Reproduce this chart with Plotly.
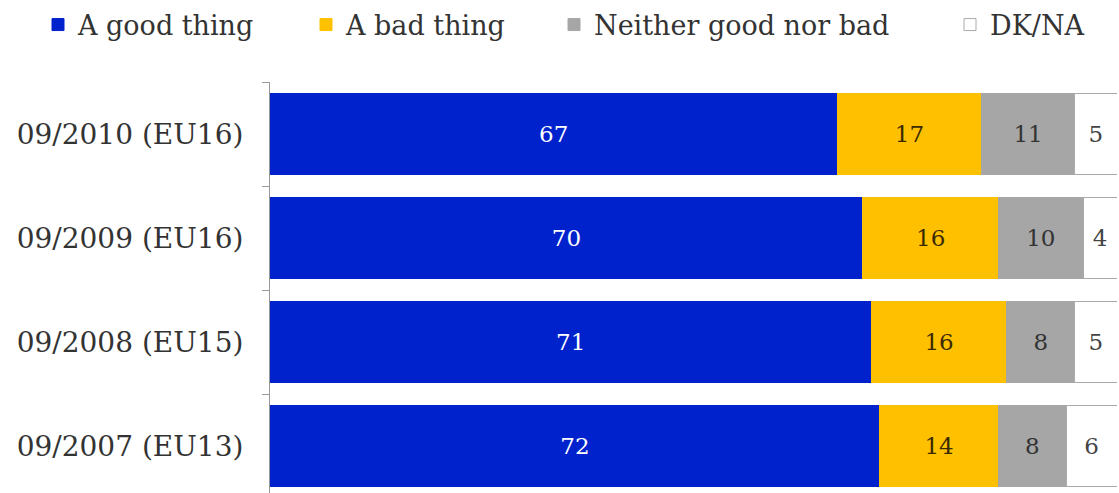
import plotly.graph_objects as go

categories = ["09/2010 (EU16)", "09/2009 (EU16)", "09/2008 (EU15)", "09/2007 (EU13)"]
good = [67, 70, 71, 72]
bad = [17, 16, 16, 14]
neither = [11, 10, 8, 8]
dkna = [5, 4, 5, 6]

series_names = ["A good thing", "A bad thing", "Neither good nor bad", "DK/NA"]
series_values = [good, bad, neither, dkna]
colors = ["#0022CC", "#FFC000", "#A6A6A6", "#FFFFFF"]
text_colors = ["#FFFFFF", "#3a2a00", "#333333", "#444444"]
line_colors = ["#0022CC", "#FFC000", "#A6A6A6", "#AAAAAA"]
legend_ids = ["legend", "legend2", "legend3", "legend4"]
legend_px = [52, 320, 568, 964]  # left edge of legend swatch in the window

FONT = "DejaVu Serif, Liberation Serif, serif"
W, H = 1119, 493
ML, MR, MT, MB = 270, 2, 82, 0
plot_w = W - ML - MR
plot_h = H - MT - MB

fig = go.Figure()
for name, vals, col, tcol, lcol, lid in zip(series_names, series_values, colors, text_colors, line_colors, legend_ids):
    fig.add_trace(go.Bar(
        y=categories, x=vals, orientation="h", name=name,
        marker=dict(color=col, line=dict(color=lcol, width=1)),
        text=[str(v) for v in vals], textposition="inside",
        insidetextanchor="middle", textangle=0,
        textfont=dict(family=FONT, size=23, color=tcol),
        legend=lid, hoverinfo="skip", showlegend=True,
    ))

layout_legends = {}
for lid, px in zip(legend_ids, legend_px):
    layout_legends[lid] = dict(
        x=(px - 14 - ML) / plot_w, xanchor="left",
        y=1 + (MT - 25) / plot_h, yanchor="middle",
        orientation="h", bgcolor="rgba(0,0,0,0)", borderwidth=0,
        font=dict(family=FONT, size=27, color="#333333"),
        visible=True,
    )

fig.update_layout(
    width=W, height=H,
    margin=dict(l=ML, r=MR, t=MT, b=MB),
    showlegend=True,
    barmode="stack", bargap=0.22,
    plot_bgcolor="white", paper_bgcolor="white",
    uniformtext=dict(minsize=10, mode="show"),
    xaxis=dict(range=[0, 100], visible=False, fixedrange=True),
    yaxis=dict(
        categoryorder="array", categoryarray=categories,
        range=[-0.5 + plot_h / 104.0, -0.5],
        showline=True, linecolor="#999999", linewidth=1,
        ticks="outside", tickson="boundaries", ticklen=7, tickcolor="#999999",
        ticklabelstandoff=20,
        tickfont=dict(family=FONT, size=28, color="#333333"),
        showgrid=False, zeroline=False, fixedrange=True,
    ),
    **layout_legends,
)

fig.write_html("out.html", config={"displayModeBar": False},
               post_script="document.body.style.margin='0';")
